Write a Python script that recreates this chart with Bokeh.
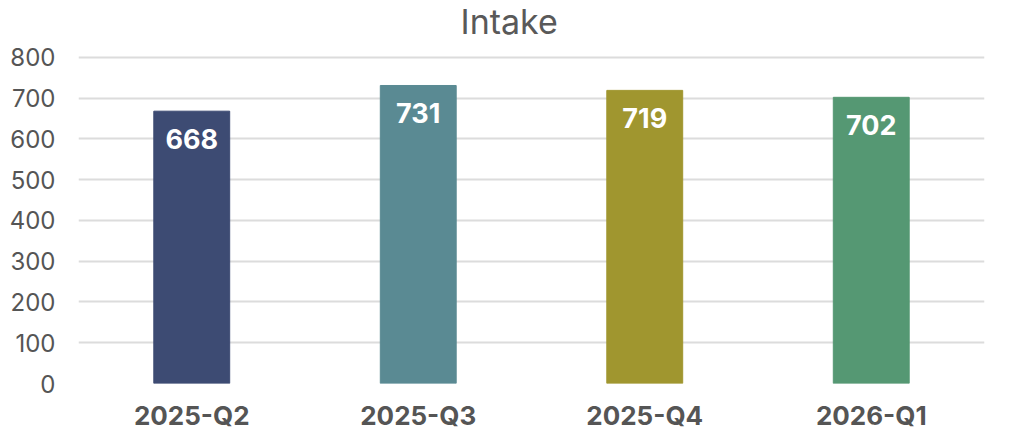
from bokeh.plotting import figure
from bokeh.models import ColumnDataSource, FactorRange, Range1d, FixedTicker, LabelSet
from bokeh.core.properties import value
from bokeh.embed import file_html
from bokeh.resources import INLINE

categories = ["2025-Q2", "2025-Q3", "2025-Q4", "2026-Q1"]
intake = [668, 731, 719, 702]
colors = ["#3d4b73", "#5a8a93", "#a0962f", "#559873"]
y_ticks = [0, 100, 200, 300, 400, 500, 600, 700, 800]
title = "Intake"

src = ColumnDataSource(dict(cat=categories, val=intake, color=colors,
                            label=[str(v) for v in intake]))

p = figure(width=1016, height=434, x_range=FactorRange(*categories),
           y_range=Range1d(0, 834), output_backend="svg", toolbar_location=None,
           min_border_left=78, min_border_right=32, min_border_top=0, min_border_bottom=51,
           title=title)

p.vbar(x="cat", top="val", width=0.335, color="color", source=src)

labels = LabelSet(x="cat", y="val", text="label", source=src, y_offset=-28,
                  text_align="center", text_baseline="middle", text_color="white",
                  text_font=value("Inter"), text_font_size="27px", text_font_style="bold")
p.add_layout(labels)

p.title.align = "left"
p.title.offset = 382
p.title.standoff = 0
p.title.vertical_align = "top"
p.title.text_font = "Inter"
p.title.text_font_size = "34px"
p.title.text_font_style = "normal"
p.title.text_color = "#595959"

p.outline_line_color = None
p.xgrid.grid_line_color = None
p.ygrid.grid_line_color = "#dcdcdc"
p.ygrid.grid_line_width = 2
p.yaxis.ticker = FixedTicker(ticks=y_ticks)

for ax in (p.xaxis, p.yaxis):
    ax.axis_line_color = None
    ax.major_tick_line_color = None
    ax.minor_tick_line_color = None
    ax.major_tick_out = 0
    ax.major_tick_in = 0
    ax.major_label_text_font = "Inter"
    ax.major_label_text_color = "#555555"

p.yaxis.major_label_text_font_size = "24px"
p.yaxis.major_label_standoff = 23
p.xaxis.major_label_text_font_size = "26px"
p.xaxis.major_label_text_font_style = "bold"
p.xaxis.major_label_standoff = 16

open("out.html", "w").write(file_html(p, INLINE))
